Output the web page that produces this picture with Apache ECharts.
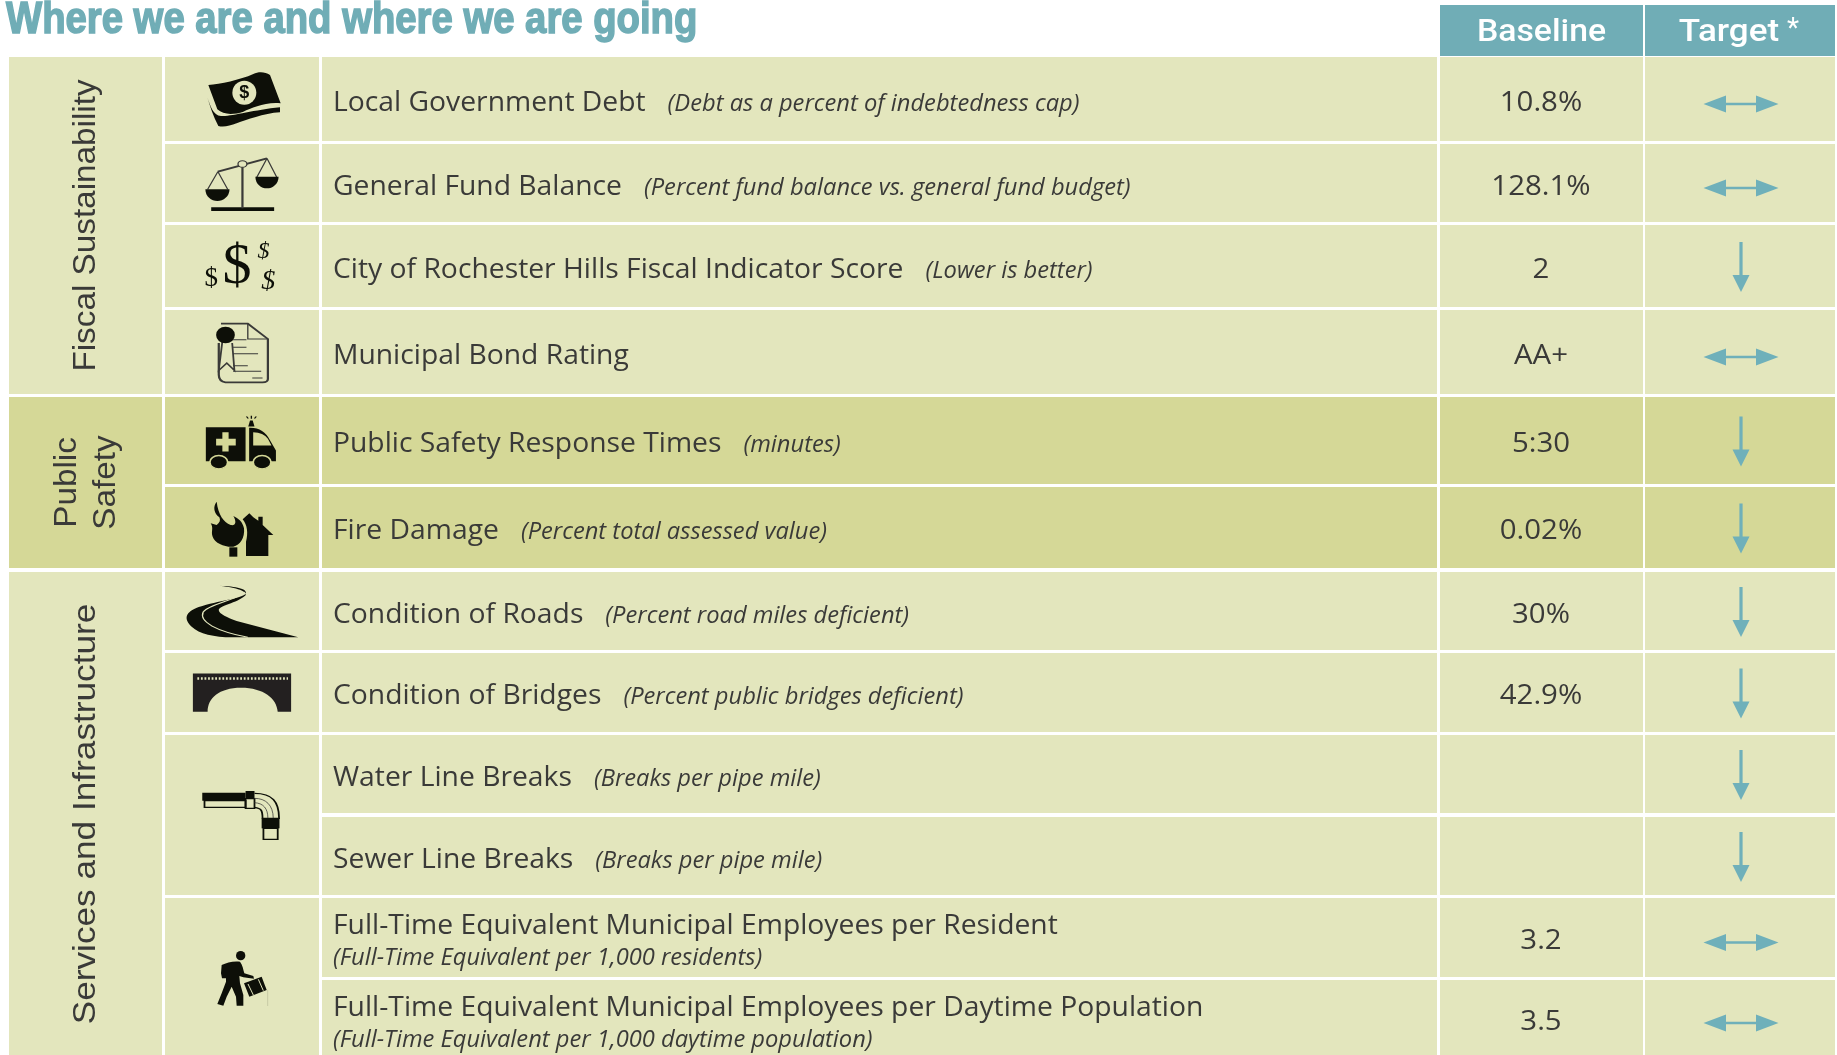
<!DOCTYPE html>
<html>
<head>
<meta charset="utf-8">
<title>Where we are and where we are going</title>
<script src="https://cdn.jsdelivr.net/npm/echarts@6/dist/echarts.min.js"></script>
<style>
  html, body { margin: 0; padding: 0; background: #fff; }
  #main { width: 1837px; height: 1055px; }
</style>
</head>
<body>
<div id="main"></div>
<script>
// table content
const chartTitle = 'Where we are and where we are going'
const columnHeads = ['Baseline', 'Target']
const groupNames = [['Fiscal Sustainability'], ['Public', 'Safety'], ['Services and Infrastructure']]
const measureNames = [
  'Local Government Debt',
  'General Fund Balance',
  'City of Rochester Hills Fiscal Indicator Score',
  'Municipal Bond Rating',
  'Public Safety Response Times',
  'Fire Damage',
  'Condition of Roads',
  'Condition of Bridges',
  'Water Line Breaks',
  'Sewer Line Breaks',
  'Full-Time Equivalent Municipal Employees per Resident',
  'Full-Time Equivalent Municipal Employees per Daytime Population'
]
const measureNotes = [
  '(Debt as a percent of indebtedness cap)',
  '(Percent fund balance vs. general fund budget)',
  '(Lower is better)',
  '',
  '(minutes)',
  '(Percent total assessed value)',
  '(Percent road miles deficient)',
  '(Percent public bridges deficient)',
  '(Breaks per pipe mile)',
  '(Breaks per pipe mile)',
  '(Full-Time Equivalent per 1,000 residents)',
  '(Full-Time Equivalent per 1,000 daytime population)'
]
const baselines = ['10.8%', '128.1%', '2', 'AA+', '5:30', '0.02%', '30%', '42.9%', '', '', '3.2', '3.5']
const targets = ['flat', 'flat', 'down', 'flat', 'down', 'down', 'down', 'down', 'down', 'down', 'flat', 'flat']

// layout, the hidden axes run in page pixels
const colEdges = [[9, 162], [165, 319], [322, 1437], [1440, 1643], [1645, 1835]]
const rowEdges = [[57, 141], [144, 222], [225, 307], [310, 394], [397, 484], [487, 568], [572, 650], [653, 732], [735, 813], [817, 895], [898, 977], [980, 1056]]
const groupRows = [[0, 3], [4, 5], [6, 11]]
const iconRows = [[0, 0], [1, 1], [2, 2], [3, 3], [4, 4], [5, 5], [6, 6], [7, 7], [8, 9], [10, 11]]
const rowGroup = [0, 0, 0, 0, 1, 1, 2, 2, 2, 2, 2, 2]

const LIGHT = '#e3e6bd'
const DARK = '#d5d897'
const TEAL = '#70adb6'
const ARROW = '#6fb0ba'
const INK = '#3a3a38'
const BLACK = '#0d0f08'
const groupFills = [LIGHT, DARK, LIGHT]

const FONT_NAME = '28px "Open Sans"'
const FONT_NOTE = 'italic 500 23px "Open Sans"'
const FONT_GROUP = '32px "Liberation Sans"'
const FONT_HEAD = '500 31px Roboto'
const FONT_TITLE = 'bold 44px "Liberation Sans"'
const NAME_STRETCH = 1.01
const NOTE_STRETCH = 1.03
const VALUE_STRETCH = 1.05
const GROUP_STRETCH = [1.04, 1.04, 1.1]
const TITLE_STRETCH = 0.87
// icons were traced at these units per page pixel unless they say otherwise
const ICON_UX = 2.24
const ICON_UY = 3

// c is the cell centre in the traced units
const ICONS = [
  { c: [156, 117], ux: 3, uy: 3, parts: [
    { d: 'M55 75 C90 72 150 60 190 42 C205 35 225 35 240 45 L272 130 C225 125 185 145 160 155 C130 165 100 165 82 148 Z' },
    { d: 'M52 112 C60 135 70 170 95 168 C125 170 190 150 270 142 L270 157 C220 160 170 180 140 190 C120 198 100 202 85 198 C70 170 60 140 52 112 Z' },
    { d: 'M127 98 A36 36 0 1 0 199 98 A36 36 0 1 0 127 98 Z', fill: 'bg' },
    { text: '$', x: 163, y: 99, family: 'bold 18px "Liberation Sans"' }
  ] },
  { c: [542, 549], parts: [
    { d: 'M473 622 L614 622 L614 633 L473 633 Z' },
    { d: 'M543 495 L543 625', fill: 'none', stroke: INK, w: 5 },
    { d: 'M488 515 L598 475', fill: 'none', stroke: INK, w: 6 },
    { d: 'M488 515 L465 568 M488 515 L510 568 M598 475 L575 532 M598 475 L620 532', fill: 'none', stroke: INK, w: 3 },
    { d: 'M460 568 L514 568 C514 590 500 603 487 603 C473 603 460 590 460 568 Z' },
    { d: 'M572 530 L624 530 C624 552 610 565 598 565 C585 565 572 552 572 530 Z' },
    { d: 'M533 492 A10 10 0 1 0 553 492 A10 10 0 1 0 533 492 Z', fill: 'bg', stroke: INK, w: 3 }
  ] },
  { c: [542, 799], parts: [
    { text: '$', x: 531, y: 805, family: '58px "Liberation Serif"' },
    { text: '$', x: 473, y: 838, family: '27px "Liberation Serif"' },
    { text: '$', x: 590, y: 755, family: 'italic 24px "Liberation Serif"' },
    { text: '$', x: 601, y: 845, family: 'italic 28px "Liberation Serif"' }
  ] },
  { c: [542, 1057], parts: [
    { d: 'M495 972 L555 972 L600 1018 L600 1138 Q600 1148 588 1148 L505 1148 Q490 1145 490 1125 L490 1030', fill: 'none', stroke: INK, w: 5 },
    { d: 'M555 972 L555 1018 L600 1018', fill: 'none', stroke: INK, w: 3 },
    { d: 'M520 1020 L552 1020 M522 1043 L552 1043 M522 1062 L578 1062 M522 1098 L555 1098 M522 1115 L585 1115 M565 1135 L588 1135', fill: 'none', stroke: INK, w: 3 },
    { d: 'M498 1025 L490 1112 L508 1090 L525 1112 L520 1030', fill: 'none', stroke: INK, w: 4 },
    { d: 'M484 1006 A21 25 0 1 0 526 1006 A21 25 0 1 0 484 1006 Z' }
  ] },
  { c: [542, 150], parts: [
    { d: 'M461 110 L550 110 L550 212 L461 212 Z' },
    { d: 'M558 112 Q590 110 605 150 L618 180 L618 212 L558 212 Z' },
    { d: 'M567 125 Q590 125 600 145 L608 165 L567 165 Z', fill: 'bg' },
    { d: 'M498 125 L512 125 L512 145 L528 145 L528 165 L512 165 L512 183 L498 183 L498 165 L484 165 L484 145 L498 145 Z', fill: 'bg' },
    { d: 'M470 215 A20 20 0 1 0 510 215 A20 20 0 1 0 470 215 Z', stroke: DARK, w: 4 },
    { d: 'M567 215 A20 20 0 1 0 607 215 A20 20 0 1 0 567 215 Z', stroke: DARK, w: 4 },
    { d: 'M556 108 L570 108 L566 90 L560 90 Z' },
    { d: 'M563 85 L563 76 M556 84 L552 78 M570 84 L574 78', fill: 'none', stroke: BLACK, w: 3 }
  ] },
  { c: [156, 112.5], ux: 3, uy: 3, parts: [
    { d: 'M158 88 L178 70 L190 82 L205 92 L205 80 L218 80 L218 105 L250 135 L235 135 L235 198 L168 198 L168 155 C175 130 172 105 158 88 Z' },
    { d: 'M80 35 C68 50 72 70 88 82 C92 90 90 98 80 105 L62 100 C72 115 62 125 68 140 C75 160 105 172 130 170 C150 165 165 145 162 115 C158 95 145 85 130 78 C140 95 138 108 122 105 C100 95 85 75 80 35 Z' },
    { d: 'M118 172 L142 172 L142 200 L118 200 Z' }
  ] },
  { c: [542, 662], parts: [
    { d: 'M490 586 C530 588 555 595 550 610 C540 625 490 630 445 650 C415 665 410 685 430 710 C445 730 480 741 520 741 L668 741 L530 692 C510 683 490 670 490 660 C490 645 530 640 550 615 C555 600 520 590 490 586 Z', fill: BLACK },
    { d: 'M548 605 C530 630 470 640 455 665 C445 695 485 722 555 741', fill: 'none', stroke: 'bg', w: 3 }
  ] },
  { c: [542, 907], parts: [
    { d: 'M432 850 L652 850 L652 965 L622 965 C620 925 590 893 540 893 C490 893 465 925 465 965 L432 965 Z', fill: '#232020' },
    { d: 'M442 865 L645 865', fill: 'none', stroke: 'bg', w: 8, dash: [4, 4] }
  ] },
  { c: [542, 255], parts: [
    { d: 'M453 188 L550 188 L550 212 L453 212 Z' },
    { d: 'M458 212 L550 212 L550 232 L458 232 Z', fill: 'none', stroke: BLACK, w: 4 },
    { d: 'M550 183 L570 183 L570 206 L550 206 Z' },
    { d: 'M550 206 L570 206 L570 235 L550 235 Z', fill: 'none', stroke: BLACK, w: 4 },
    { d: 'M570 190 C610 190 625 215 625 265 L588 265 C588 240 585 235 570 232', fill: 'none', stroke: BLACK, w: 4 },
    { d: 'M570 205 C595 205 612 225 612 265 M570 218 C590 220 600 235 600 265', fill: 'none', stroke: INK, w: 2 },
    { d: 'M586 265 L626 265 L626 295 L586 295 Z' },
    { d: 'M590 295 L622 295 L622 328 L590 328 Z', fill: 'none', stroke: BLACK, w: 4 }
  ] },
  { c: [156, 111], ux: 3, uy: 3, parts: [
    { d: 'M138 47 A14 14 0 1 0 166 47 A14 14 0 1 0 138 47 Z' },
    { d: 'M95 75 C110 68 130 62 150 65 C158 75 160 90 163 100 L190 108 L192 116 L160 112 L148 108 L150 130 L160 165 L160 197 L140 197 L138 170 L125 140 L110 170 L100 197 L82 192 L95 160 L108 125 L108 115 L96 115 L93 100 Z' },
    { d: 'M162 130 L215 110 L230 150 L178 170 Z' },
    { d: 'M174 132 L190 165 M205 118 L220 152', fill: 'none', stroke: 'bg', w: 3 },
    { d: 'M233 150 L233 198', fill: 'none', stroke: '#b9bc98', w: 2 }
  ] }
]

// width of a string, used to place the note behind the measure name
const ruler = document.createElement('canvas').getContext('2d')
const textWidth = function (text, font) {
  ruler.font = font
  return ruler.measureText(text).width
}

const chart = echarts.init(document.getElementById('main'), null, { renderer: 'canvas' })

const cellShape = function (api, col, top, bottom, fill) {
  const a = api.coord([colEdges[col][0], top])
  const b = api.coord([colEdges[col][1], bottom])
  return { type: 'rect', shape: { x: a[0], y: a[1], width: b[0] - a[0], height: b[1] - a[1] }, style: { fill: fill } }
}

const textShape = function (api, text, x, y, font, fill, align, stretch, rotation) {
  const p = api.coord([x, y])
  return {
    type: 'text',
    x: p[0],
    y: p[1],
    rotation: rotation || 0,
    scaleX: stretch || 1,
    style: { text: text, x: 0, y: 0, font: font, fill: fill, textAlign: align || 'left', textVerticalAlign: 'middle' }
  }
}

const iconShape = function (api, icon, cx, cy, bg) {
  const p = api.coord([cx, cy])
  const ux = icon.ux || ICON_UX
  const uy = icon.uy || ICON_UY
  const color = c => (c === 'bg' ? bg : c)
  const children = icon.parts.map(part => {
    if (part.text) {
      return {
        type: 'text',
        x: part.x,
        y: part.y,
        scaleX: ux,
        scaleY: uy,
        style: { text: part.text, x: 0, y: 0, font: part.family, fill: BLACK, textAlign: 'center', textVerticalAlign: 'middle' }
      }
    }
    const fill = part.fill === undefined ? BLACK : color(part.fill)
    return {
      type: 'path',
      shape: { pathData: part.d },
      style: {
        fill: fill === 'none' ? null : fill,
        stroke: part.stroke ? color(part.stroke) : null,
        lineWidth: part.w || 0,
        lineDash: part.dash || null
      }
    }
  })
  return {
    type: 'group',
    x: p[0] - icon.c[0] / ux,
    y: p[1] - icon.c[1] / uy,
    scaleX: 1 / ux,
    scaleY: 1 / uy,
    children: children
  }
}

const arrowShape = function (api, kind, cx, cy) {
  const p = api.coord([cx, cy + (kind === 'flat' ? 5 : 1)])
  const d = kind === 'flat'
    ? 'M-37.5 0 L-15 -8.5 L-15 -1.2 L15 -1.2 L15 -8.5 L37.5 0 L15 8.5 L15 1.2 L-15 1.2 L-15 8.5 Z'
    : 'M-1.6 -25 L1.6 -25 L1.6 8 L8.5 8 L0 25 L-8.5 8 L-1.6 8 Z'
  return { type: 'path', x: p[0], y: p[1], shape: { pathData: d }, style: { fill: ARROW } }
}

const renderGroup = function (params, api) {
  const i = api.value(0)
  const top = rowEdges[groupRows[i][0]][0]
  const bottom = rowEdges[groupRows[i][1]][1]
  const children = [cellShape(api, 0, top, bottom, groupFills[i])]
  const lines = groupNames[i]
  const cy = (top + bottom) / 2
  lines.forEach((line, k) => {
    const cx = lines.length === 1 ? 86 : 67 + k * 39
    children.push(textShape(api, line, cx, cy, FONT_GROUP, INK, 'center', GROUP_STRETCH[i], Math.PI / 2))
  })
  return { type: 'group', children: children }
}

const renderIconCell = function (params, api) {
  const i = api.value(0)
  const top = rowEdges[iconRows[i][0]][0]
  const bottom = rowEdges[iconRows[i][1]][1]
  const bg = groupFills[rowGroup[iconRows[i][0]]]
  const cx = (colEdges[1][0] + colEdges[1][1]) / 2
  return {
    type: 'group',
    children: [
      cellShape(api, 1, top, bottom, bg),
      iconShape(api, ICONS[i], cx, (top + bottom) / 2, bg)
    ]
  }
}

const renderRow = function (params, api) {
  const i = api.value(0)
  const top = rowEdges[i][0]
  const bottom = rowEdges[i][1]
  const cy = (top + bottom) / 2
  const bg = groupFills[rowGroup[i]]
  const textX = 333
  const children = [
    cellShape(api, 2, top, bottom, bg),
    cellShape(api, 3, top, bottom, bg),
    cellShape(api, 4, top, bottom, bg)
  ]
  if (i >= 10) {
    // the two long rows carry the note on its own line
    children.push(textShape(api, measureNames[i], textX, top + 28, FONT_NAME, INK, 'left', NAME_STRETCH))
    children.push(textShape(api, measureNotes[i], textX, top + 60, FONT_NOTE, INK, 'left', NOTE_STRETCH))
  } else {
    children.push(textShape(api, measureNames[i], textX, cy + 4, FONT_NAME, INK, 'left', NAME_STRETCH))
    if (measureNotes[i]) {
      const noteX = textX + textWidth(measureNames[i], FONT_NAME) * NAME_STRETCH + 22
      children.push(textShape(api, measureNotes[i], noteX, cy + 5, FONT_NOTE, INK, 'left', NOTE_STRETCH))
    }
  }
  if (baselines[i]) {
    children.push(textShape(api, baselines[i], 1541, cy + 4, FONT_NAME, INK, 'center', VALUE_STRETCH))
  }
  children.push(arrowShape(api, targets[i], 1741, cy))
  return { type: 'group', children: children }
}

const renderHead = function (params, api) {
  const i = api.value(0)
  const col = i + 3
  const cx = (colEdges[col][0] + colEdges[col][1]) / 2
  const children = [cellShape(api, col, 5, 56, TEAL)]
  children.push(textShape(api, columnHeads[i], i === 0 ? cx : 1729, 33, FONT_HEAD, '#fff', 'center', i === 0 ? 1.09 : 1.13))
  if (i === 1) {
    children.push(textShape(api, '*', 1793, 30, '400 28px Roboto', '#fff', 'center'))
  }
  return { type: 'group', children: children }
}

const renderTitle = function (params, api) {
  const el = textShape(api, chartTitle, 6, 21, FONT_TITLE, TEAL, 'left', TITLE_STRETCH)
  el.style.stroke = TEAL
  el.style.lineWidth = 1.5
  return el
}

const indexData = list => list.map((item, i) => [i])

const option = {
  animation: false,
  backgroundColor: '#fff',
  grid: { left: 0, right: 0, top: 0, bottom: 0 },
  xAxis: { type: 'value', min: 0, max: 1837, show: false },
  yAxis: { type: 'value', min: 0, max: 1055, inverse: true, show: false },
  series: [
    { type: 'custom', name: 'title', renderItem: renderTitle, data: [[0]], clip: false, silent: true },
    { type: 'custom', name: 'heads', renderItem: renderHead, data: indexData(columnHeads), clip: false, silent: true },
    { type: 'custom', name: 'groups', renderItem: renderGroup, data: indexData(groupNames), clip: false, silent: true },
    { type: 'custom', name: 'icons', renderItem: renderIconCell, data: indexData(iconRows), clip: false, silent: true },
    { type: 'custom', name: 'rows', renderItem: renderRow, data: indexData(measureNames), clip: false, silent: true }
  ]
}

chart.setOption(option)
</script>
</body>
</html>
